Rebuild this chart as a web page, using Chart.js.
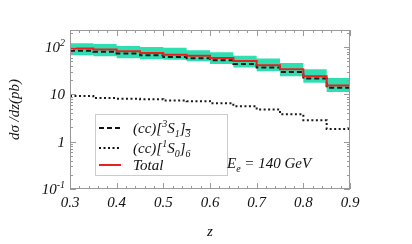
<!DOCTYPE html>
<html>
<head>
<meta charset="utf-8">
<script src="https://cdn.jsdelivr.net/npm/chart.js@4"></script>
<style>
  html, body { margin: 0; padding: 0; background: #fff; }
  canvas { display: block; }
</style>
</head>
<body>
<canvas id="chart" width="412" height="244"></canvas>
<script>
// bin left edges in z, last bin closes at zEnd
const binEdges = [0.3, 0.35, 0.4, 0.45, 0.5, 0.55, 0.6, 0.65, 0.7, 0.75, 0.8, 0.85];
const zEnd = 0.9;

// d sigma / dz (pb)
const totalVals   = [93.8, 89.3, 82.2, 75.0, 69.2, 65.3, 59.2, 51.1, 41.4, 34.0, 24.1, 15.5];
const tripletVals = [83.4, 79.4, 73.5, 67.0, 62.0, 58.0, 52.9, 44.1, 37.0, 29.8, 21.6, 13.9];
const sextetVals  = [9.2, 8.35, 8.14, 7.94, 7.45, 7.2, 6.53, 5.64, 4.8, 3.81, 2.84, 1.86];
const bandHigh    = [120, 116, 105, 100, 96.7, 86.3, 78.3, 65.3, 57.5, 46.3, 34.0, 22.2];
const bandLow     = [67.6, 64.3, 58.3, 55.5, 54.0, 50.3, 44.1, 37.0, 30.9, 24.1, 17.7, 11.2];

const xTickVals = [0.3, 0.4, 0.5, 0.6, 0.7, 0.8, 0.9];
const yTickVals = [0.1, 1, 10, 100];
const yTickLabels = [['10', '-1'], ['1', ''], ['10', ''], ['10', '2']];

function steps(vals) {
    const pts = binEdges.map((x, i) => ({ x: x, y: vals[i] }));
    pts.push({ x: zEnd, y: vals[vals.length - 1] });
    return pts;
}

const FONT = 'italic 15px "Liberation Serif", "DejaVu Serif", serif';
const SMALL = 'italic 10px "Liberation Serif", "DejaVu Serif", serif';

// draws text runs with super/subscripts, returns end x
function runs(ctx, parts, x, y) {
    ctx.textBaseline = 'alphabetic';
    ctx.textAlign = 'left';
    parts.forEach(p => {
        const small = p.s === 'sup' || p.s === 'sub';
        ctx.font = small ? SMALL : FONT;
        const dy = p.s === 'sup' ? -6 : (p.s === 'sub' ? 4 : 0);
        ctx.fillText(p.t, x, y + dy);
        const w = ctx.measureText(p.t).width;
        if (p.bar) {
            ctx.fillRect(x, y + dy - 8, w, 0.9);
        }
        x += w;
    });
    return x;
}

const framePlugin = {
    id: 'frame',
    afterDraw(chart) {
        const ctx = chart.ctx;
        const a = chart.chartArea;
        const xs = chart.scales.x, ys = chart.scales.y;
        ctx.save();

        // frame
        ctx.strokeStyle = '#999';
        ctx.lineWidth = 1;
        ctx.strokeRect(a.left + 0.5, a.top + 0.5, a.right - a.left - 1, a.bottom - a.top - 1);

        // x ticks, top and bottom, inside
        ctx.beginPath();
        for (let k = 0; k <= 30; k++) {
            const v = 0.3 + k * 0.02;
            const px = Math.round(xs.getPixelForValue(v)) + 0.5;
            const len = (k % 5 === 0) ? 6 : 3;
            ctx.moveTo(px, a.bottom); ctx.lineTo(px, a.bottom - len);
            ctx.moveTo(px, a.top); ctx.lineTo(px, a.top + len);
        }
        // y ticks, left and right, inside
        [0.1, 1, 10, 100].forEach(d => {
            for (let m = 1; m <= 9; m++) {
                const v = d * m;
                if (v > ys.max) continue;
                const py = Math.round(ys.getPixelForValue(v)) + 0.5;
                const len = (m === 1) ? 6 : 3;
                ctx.moveTo(a.left, py); ctx.lineTo(a.left + len, py);
                ctx.moveTo(a.right, py); ctx.lineTo(a.right - len, py);
            }
        });
        ctx.stroke();

        ctx.fillStyle = '#111';
        // x tick labels
        ctx.font = FONT;
        ctx.textAlign = 'center';
        ctx.textBaseline = 'middle';
        xTickVals.forEach(v => {
            ctx.fillText(v.toFixed(1), xs.getPixelForValue(v), a.bottom + 14);
        });

        // y tick labels, right aligned
        yTickVals.forEach((v, i) => {
            const [base, sup] = yTickLabels[i];
            ctx.font = FONT;
            const wb = ctx.measureText(base).width;
            ctx.font = SMALL;
            const ws = sup ? ctx.measureText(sup).width : 0;
            const py = ys.getPixelForValue(v);
            runs(ctx, [{ t: base }, { t: sup, s: 'sup' }], 65 - wb - ws, py + 5);
        });

        // axis titles
        ctx.font = FONT;
        ctx.textAlign = 'center';
        ctx.textBaseline = 'middle';
        ctx.fillText('z', (a.left + a.right) / 2, 232);
        ctx.save();
        ctx.translate(15, (a.top + a.bottom) / 2);
        ctx.rotate(-Math.PI / 2);
        ctx.fillText('d\u03C3 /dz(pb)', 0, 0);
        ctx.restore();

        // legend box
        ctx.fillStyle = 'rgba(255,255,255,0.9)';
        ctx.fillRect(95, 114, 132, 61);
        ctx.strokeStyle = '#ccc';
        ctx.strokeRect(95.5, 114.5, 132, 61);

        const rows = [
            { y: 128, color: '#111', dash: [5, 3], parts: [{ t: '(cc)[' }, { t: '3', s: 'sup' }, { t: 'S' }, { t: '1', s: 'sub' }, { t: ']' }, { t: '3', s: 'sub', bar: true }] },
            { y: 148, color: '#111', dash: [2, 2.5], parts: [{ t: '(cc)[' }, { t: '1', s: 'sup' }, { t: 'S' }, { t: '0', s: 'sub' }, { t: ']' }, { t: '6', s: 'sub' }] },
            { y: 165, color: '#e8211f', dash: [], parts: [{ t: 'Total' }] }
        ];
        rows.forEach(r => {
            ctx.strokeStyle = r.color;
            ctx.lineWidth = 2;
            ctx.setLineDash(r.dash);
            ctx.beginPath();
            ctx.moveTo(99, r.y); ctx.lineTo(121, r.y);
            ctx.stroke();
            ctx.setLineDash([]);
            ctx.fillStyle = '#111';
            runs(ctx, r.parts, 133, r.y + 5);
        });

        // beam energy note
        runs(ctx, [{ t: 'E' }, { t: 'e', s: 'sub' }, { t: ' = 140 GeV' }], 227, 168);

        ctx.restore();
    }
};

new Chart(document.getElementById('chart'), {
    type: 'line',
    data: {
        datasets: [
            {
                label: 'band up',
                data: steps(bandHigh),
                stepped: true,
                borderWidth: 0,
                borderColor: 'rgba(0,0,0,0)',
                pointRadius: 0,
                fill: false,
                order: 5
            },
            {
                label: 'band low',
                data: steps(bandLow),
                stepped: true,
                borderWidth: 0,
                borderColor: 'rgba(0,0,0,0)',
                backgroundColor: '#30dfb1',
                pointRadius: 0,
                fill: '-1',
                order: 4
            },
            {
                label: '(cc)[3S1]3',
                data: steps(tripletVals),
                stepped: true,
                borderColor: '#1a1a1a',
                borderWidth: 2,
                borderDash: [5, 3],
                pointRadius: 0,
                fill: false,
                order: 2
            },
            {
                label: '(cc)[1S0]6',
                data: steps(sextetVals),
                stepped: true,
                borderColor: '#1a1a1a',
                borderWidth: 2,
                borderDash: [2, 2.5],
                pointRadius: 0,
                fill: false,
                order: 2
            },
            {
                label: 'Total',
                data: steps(totalVals),
                stepped: true,
                borderColor: '#e8211f',
                borderWidth: 2,
                pointRadius: 0,
                fill: false,
                order: 1
            }
        ]
    },
    options: {
        responsive: false,
        animation: false,
        layout: { padding: { left: 70, right: 62, top: 30, bottom: 55 } },
        plugins: {
            legend: { display: false },
            tooltip: { enabled: false }
        },
        scales: {
            x: { type: 'linear', min: 0.3, max: 0.9, display: false },
            y: { type: 'logarithmic', min: 0.1, max: 230, display: false }
        }
    },
    plugins: [framePlugin]
});
</script>
</body>
</html>
